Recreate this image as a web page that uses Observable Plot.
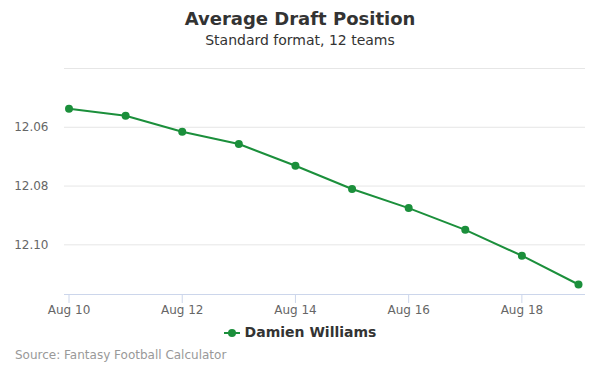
<!DOCTYPE html>
<html>
<head>
<meta charset="utf-8">
<script src="https://cdn.jsdelivr.net/npm/d3@7"></script>
<script src="https://cdn.jsdelivr.net/npm/@observablehq/plot@0.6"></script>
<style>
  html, body { margin: 0; padding: 0; background: #fff; }
  body { width: 600px; height: 375px; position: relative; overflow: hidden; font-family: "DejaVu Sans", sans-serif; }
  #title { position: absolute; top: 8px; left: 0; width: 600px; text-align: center; font-size: 18px; font-weight: bold; color: #333; }
  #subtitle { position: absolute; top: 32px; left: 0; width: 600px; text-align: center; font-size: 14px; color: #333; }
  #chart { position: absolute; top: 50px; left: 0; }
  #legend { position: absolute; top: 324px; left: 0; width: 600px; text-align: center; font-size: 14px; font-weight: bold; color: #333; }
  #legend svg { vertical-align: -1px; margin-right: 5px; }
  #source { position: absolute; top: 348px; left: 15px; font-size: 12px; color: #999; }
</style>
</head>
<body>
<div id="title">Average Draft Position</div>
<div id="subtitle">Standard format, 12 teams</div>
<div id="chart"></div>
<div id="legend"></div>
<div id="source">Source: Fantasy Football Calculator</div>
<script>
const seriesName = "Damien Williams";
const dates = ["2018-08-10","2018-08-11","2018-08-12","2018-08-13","2018-08-14","2018-08-15","2018-08-16","2018-08-17","2018-08-18","2018-08-19"];
const adp = [12.0537, 12.0561, 12.0615, 12.0657, 12.0731, 12.0810, 12.0875, 12.0949, 12.1037, 12.1135];
const xTicks = ["2018-08-10","2018-08-12","2018-08-14","2018-08-16","2018-08-18"];
const yTicks = [12.06, 12.08, 12.10];
const yGrid = [12.04, 12.06, 12.08, 12.10];
const color = "#1b8f3b";

const data = dates.map((d, i) => ({date: new Date(d + "T00:00:00Z"), value: adp[i]}));
const monthNames = ["Jan","Feb","Mar","Apr","May","Jun","Jul","Aug","Sep","Oct","Nov","Dec"];
const fmt = d => monthNames[d.getUTCMonth()] + " " + d.getUTCDate();

const plot = Plot.plot({
  width: 600,
  height: 270,
  marginTop: 18,
  marginBottom: 26,
  marginLeft: 64,
  marginRight: 15,
  style: {fontFamily: "DejaVu Sans, sans-serif", fontSize: "11.5px", color: "#666", background: "#fff"},
  x: {type: "utc", domain: [data[0].date, data[data.length - 1].date], insetLeft: 4.5, insetRight: 7},
  y: {domain: [12.04, 12.1169], reverse: true},
  marks: [
    Plot.gridY(yGrid, {stroke: "#e6e6e6", strokeOpacity: 1}),
    Plot.ruleY([12.1169], {stroke: "#ccd6eb"}),
    Plot.axisY(yTicks, {tickSize: 0, tickPadding: 16, tickFormat: d => d.toFixed(2), label: null, fill: "#666", fontSize: 12}),
    Plot.axisX(xTicks.map(d => new Date(d + "T00:00:00Z")), {tickSize: 9, stroke: "#ccd6eb", tickPadding: 2, tickFormat: fmt, label: null, fill: "#666", fontSize: 12}),
    Plot.line(data, {x: "date", y: "value", stroke: color, strokeWidth: 2}),
    Plot.dot(data, {x: "date", y: "value", fill: color, r: 4})
  ]
});
document.getElementById("chart").appendChild(plot);

const legend = document.getElementById("legend");
legend.innerHTML = `<svg width="16" height="10"><line x1="0" y1="5" x2="16" y2="5" stroke="${color}" stroke-width="2"/><circle cx="8" cy="5" r="4" fill="${color}"/></svg>` + seriesName;
</script>
</body>
</html>
